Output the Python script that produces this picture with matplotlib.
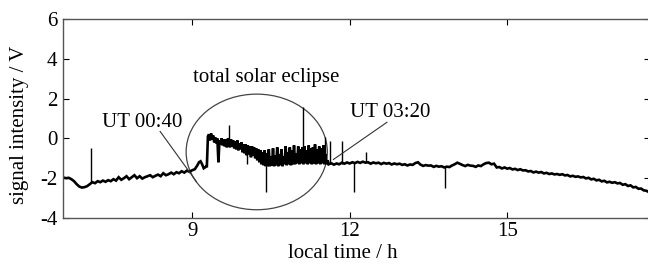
import numpy as np
import matplotlib
matplotlib.use("Agg")
import matplotlib.pyplot as plt
from matplotlib.patches import Ellipse

plt.rcParams['font.family'] = ['Liberation Serif', 'DejaVu Serif']
plt.rcParams['axes.unicode_minus'] = False

# ---- data: pre-eclipse baseline (local time h, signal V) ----
t_pre = [6.55, 6.60, 6.65, 6.70, 6.75, 6.80, 6.85, 6.90, 6.95, 7.00, 7.05, 7.10, 7.15, 7.20,
         7.25, 7.30, 7.35, 7.40, 7.45, 7.50, 7.55, 7.60, 7.65, 7.70, 7.75, 7.80, 7.85, 7.90,
         7.95, 8.00, 8.05, 8.10, 8.15, 8.20, 8.25, 8.30, 8.35, 8.40, 8.45, 8.50, 8.55, 8.60,
         8.65, 8.70, 8.75, 8.80, 8.85, 8.90, 8.95, 9.00, 9.05, 9.10, 9.13, 9.16, 9.19, 9.22,
         9.25, 9.27]
v_pre = [-1.97, -2.00, -1.98, -2.05, -2.15, -2.30, -2.42, -2.47, -2.45, -2.40, -2.30, -2.20,
         -2.25, -2.15, -2.20, -2.12, -2.18, -2.10, -2.15, -2.05, -2.12, -1.95, -2.08, -2.00,
         -1.90, -2.05, -1.95, -1.85, -2.00, -1.90, -2.02, -1.95, -1.90, -1.85, -1.95, -1.88,
         -1.82, -1.90, -1.75, -1.85, -1.80, -1.72, -1.80, -1.70, -1.75, -1.65, -1.72, -1.62,
         -1.68, -1.60, -1.55, -1.35, -1.20, -1.15, -1.30, -1.50, -1.45, -1.40]

# ---- eclipse period, dense sampling ----
t_ecl = [9.28, 9.30, 9.32, 9.34, 9.36, 9.38, 9.40, 9.42, 9.44, 9.46, 9.48, 9.50, 9.52, 9.54,
         9.56, 9.58, 9.60, 9.62, 9.64, 9.66, 9.68,
         9.70, 9.72, 9.74, 9.76, 9.78, 9.80, 9.82, 9.84, 9.86, 9.88, 9.90, 9.92, 9.94, 9.96,
         9.98, 10.00, 10.02, 10.04, 10.06, 10.08, 10.10, 10.12, 10.14, 10.16, 10.18, 10.20,
         10.22, 10.24, 10.26, 10.28, 10.30, 10.32, 10.34, 10.36, 10.38, 10.40, 10.42, 10.44,
         10.46, 10.48, 10.50, 10.52, 10.54, 10.56, 10.58, 10.60, 10.62, 10.64, 10.66, 10.68,
         10.70, 10.72, 10.74, 10.76, 10.78, 10.80, 10.82, 10.84, 10.86, 10.88, 10.90, 10.92,
         10.94, 10.96, 10.98, 11.00, 11.02, 11.04, 11.06, 11.08, 11.10, 11.12, 11.14, 11.16,
         11.18, 11.20, 11.22, 11.24, 11.26, 11.28, 11.30, 11.32, 11.34, 11.36, 11.38, 11.40,
         11.42, 11.44, 11.46, 11.48, 11.50, 11.52, 11.54, 11.56, 11.58]
v_ecl = [-1.40, 0.10, 0.20, -0.10, 0.25, -0.05, 0.15, -0.20, 0.05, -0.25, 0.00, -1.20, -0.10,
         -0.30, 0.00, -0.35, -0.05, -0.40, -0.05, -0.45, 0.00,
         -0.10, -0.45, -0.05, -0.40, -0.10, -0.50, -0.15, -0.55, -0.10, -0.60, -0.25, -0.55,
         -0.20, -0.70, -0.30, -0.75, -0.30, -0.85, -0.35, -0.80, -0.40, -0.95, -0.40, -0.85,
         -0.45, -1.00, -0.50, -1.10, -0.55, -1.20, -0.60, -1.30, -0.70, -1.35, -0.60, -1.40,
         -0.75, -1.40, -0.55, -1.40, -0.90, -1.38, -0.50, -1.40, -0.85, -1.35, -0.45, -1.40,
         -0.80, -1.35, -0.55, -1.40, -0.90, -1.30, -0.40, -1.35, -0.70, -1.30, -0.45, -1.35,
         -0.60, -1.30, -0.35, -1.30, -0.75, -1.25, -0.40, -1.30, -0.55, -1.25, -0.45, -1.30,
         -0.40, -1.25, -0.60, -1.30, -0.35, -1.25, -0.50, -1.30, -0.45, -1.25, -0.30, -1.30,
         -0.55, -1.25, -0.40, -1.30, -0.50, -1.25, -0.35, -1.30, -0.80, -1.30, -1.10]

# ---- post-eclipse baseline ----
t_post = [11.60, 11.65, 11.70, 11.75, 11.80, 11.85, 11.90, 11.95, 12.00, 12.05,
          12.10, 12.15, 12.20, 12.25, 12.30, 12.35, 12.40, 12.45, 12.50, 12.55,
          12.60, 12.65, 12.70, 12.75, 12.80, 12.85, 12.90, 12.95, 13.00, 13.05,
          13.10, 13.15, 13.20, 13.25, 13.30, 13.35, 13.40, 13.45, 13.50, 13.55,
          13.60, 13.65, 13.70, 13.75, 13.80, 13.85, 13.90, 13.95, 14.00, 14.05,
          14.10, 14.15, 14.20, 14.25, 14.30, 14.35, 14.40, 14.45, 14.50, 14.55,
          14.60, 14.65, 14.70, 14.75, 14.80, 14.85, 14.90, 14.95, 15.00, 15.05,
          15.10, 15.15, 15.20, 15.25, 15.30, 15.35, 15.40, 15.45, 15.50, 15.55,
          15.60, 15.65, 15.70, 15.75, 15.80, 15.85, 15.90, 15.95, 16.00, 16.05,
          16.10, 16.15, 16.20, 16.25, 16.30, 16.35, 16.40, 16.45, 16.50, 16.55,
          16.60, 16.65, 16.70, 16.75, 16.80, 16.85, 16.90, 16.95, 17.00, 17.05,
          17.10, 17.15, 17.20, 17.25, 17.30, 17.35, 17.40, 17.45, 17.50, 17.55,
          17.60, 17.65, 17.70]
v_post = [-1.30, -1.25, -1.32, -1.26, -1.30, -1.22, -1.27, -1.21, -1.26, -1.20,
          -1.24, -1.18, -1.23, -1.17, -1.22, -1.20, -1.27, -1.21, -1.25, -1.22,
          -1.29, -1.23, -1.27, -1.24, -1.31, -1.26, -1.30, -1.27, -1.33, -1.30,
          -1.36, -1.31, -1.33, -1.24, -1.20, -1.32, -1.38, -1.34, -1.37, -1.36,
          -1.43, -1.38, -1.42, -1.40, -1.46, -1.42, -1.44, -1.36, -1.30, -1.22,
          -1.28, -1.34, -1.39, -1.33, -1.37, -1.38, -1.43, -1.36, -1.39, -1.30,
          -1.24, -1.22, -1.30, -1.27, -1.46, -1.44, -1.51, -1.46, -1.52, -1.49,
          -1.56, -1.53, -1.59, -1.55, -1.61, -1.60, -1.66, -1.64, -1.71, -1.67,
          -1.72, -1.69, -1.76, -1.73, -1.79, -1.76, -1.81, -1.79, -1.83, -1.80,
          -1.86, -1.84, -1.91, -1.88, -1.93, -1.91, -1.96, -1.94, -2.01, -1.98,
          -2.06, -2.03, -2.11, -2.08, -2.16, -2.13, -2.21, -2.18, -2.23, -2.20,
          -2.26, -2.24, -2.33, -2.30, -2.39, -2.36, -2.46, -2.44, -2.53, -2.52,
          -2.61, -2.63, -2.70]

# ---- isolated spikes (time, start, end) ----
spike_t = [7.08, 9.70, 10.05, 10.41, 11.11, 11.53, 11.63, 11.86, 12.09, 12.31, 13.82]
spike_from = [-2.25, -0.10, -0.35, -1.40, -1.00, -1.20, -1.30, -1.28, -1.22, -1.18, -1.45]
spike_to = [-0.50, 0.65, -1.30, -2.70, 1.57, 0.05, -0.15, -0.15, -2.70, -0.70, -2.50]

x_ticks = [9, 12, 15]
y_ticks = [-4, -2, 0, 2, 4, 6]

t_all = t_pre + t_ecl + t_post
v_all = v_pre + v_ecl + v_post

fig = plt.figure(figsize=(6.48, 2.67), dpi=100)
ax = fig.add_axes([63/648, 1 - 218/267, (650 - 63)/648, (218 - 19)/267])

ax.plot(t_all, v_all, color='black', lw=1.9, solid_joinstyle='miter')
ax.vlines(spike_t, spike_from, spike_to, color='black', lw=1.0)

ax.set_xlim(6.54, 17.72)
ax.set_ylim(-4, 6)
ax.set_xticks(x_ticks)
ax.set_yticks(y_ticks)
ax.tick_params(direction='in', top=True, right=True, length=4, width=0.8,
               labelsize=15, colors='black', pad=3)
ax.tick_params(axis='y', pad=4)
for s in ax.spines.values():
    s.set_color('#555555')
    s.set_linewidth(1.0)

ax.set_xlabel('local time / h', fontsize=15)
ax.set_ylabel('signal intensity / V', fontsize=15)
ax.xaxis.set_label_coords((343 - 63) / (650 - 63), -0.13)
ax.yaxis.set_label_coords(-0.058, 0.47)

# annotations
ell = Ellipse((10.23, -0.68), 2.69, 5.81, fill=False, edgecolor='#444444', lw=0.9)
ax.add_patch(ell)
ax.text(10.41, 3.08, 'total solar eclipse', fontsize=15, ha='center', va='center')
ax.text(8.05, 0.8, 'UT 00:40', fontsize=15, ha='center', va='center')
ax.plot([8.39, 9.08], [0.35, -2.17], color='#333333', lw=0.8)
ax.text(12.77, 1.31, 'UT 03:20', fontsize=15, ha='center', va='center')
ax.plot([12.71, 11.69], [0.81, -1.06], color='#333333', lw=0.8)

fig.savefig('out.png', dpi=100)
